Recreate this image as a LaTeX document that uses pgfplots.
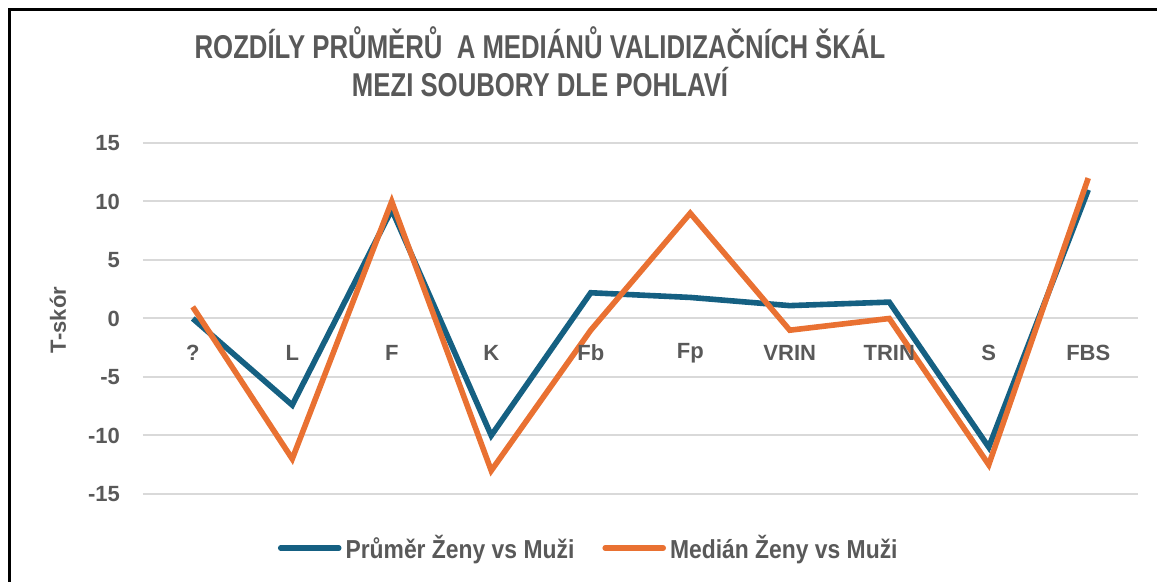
\documentclass[border=0pt]{standalone}
\usepackage{pgfplots}
\pgfplotsset{compat=1.18}
\usepackage{pgfplotstable}
\usepackage{fontspec}
\setmainfont{Liberation Sans}
\newfontfamily\titlefont[FakeStretch=0.78]{Liberation Sans}
\newfontfamily\legfont[FakeStretch=0.88]{Liberation Sans}
\definecolor{cblue}{HTML}{156082}
\definecolor{corange}{HTML}{E97132}
\definecolor{txt}{HTML}{595959}
\definecolor{gridc}{HTML}{D9D9D9}
\pgfplotstableread{
x mean median
0 0 1
1 -7.4 -12
2 9.3 10
3 -10 -13
4 2.2 -1
5 1.8 9
6 1.1 -1
7 1.4 0
8 -11 -12.5
9 11 12
}\data
\tikzset{cat/.style={font=\fontsize{11}{13}\selectfont\bfseries, text=txt}}
\begin{document}
\begin{tikzpicture}
\begin{axis}[
  scale only axis,
  width=497.5pt, height=175.5pt,
  xmin=-0.5, xmax=9.5, ymin=-15, ymax=15,
  axis line style={draw=none},
  xtick=\empty,
  ytick={-15,-10,-5,0,5,10,15},
  yticklabels={-15,-10,-5,0,5,10,15},
  ymajorgrids,
  grid style={gridc, line width=1pt},
  major tick length=0pt,
  yticklabel style={font=\fontsize{11}{13}\selectfont\bfseries, text=txt, xshift=-8pt},
  clip=false,
  legend columns=2,
  legend style={draw=none, fill=none, at={(0.449,-0.154)}, anchor=center,
    font=\legfont\fontsize{13}{15}\selectfont\bfseries, text=txt,
    /tikz/every even column/.append style={column sep=12pt}},
  legend image code/.code={\draw[#1, line cap=round] (0pt,0pt) -- (29pt,0pt);},
]
\addplot[cblue, line width=2.8pt] table[x=x, y=mean] {\data};
\addlegendentry{Průměr Ženy vs Muži}
\addplot[corange, line width=2.8pt] table[x=x, y=median] {\data};
\addlegendentry{Medián Ženy vs Muži}
\node[cat] at (axis cs:0,-2.95) {?};
\node[cat] at (axis cs:1,-2.95) {L};
\node[cat] at (axis cs:2,-2.95) {F};
\node[cat] at (axis cs:3,-2.95) {K};
\node[cat] at (axis cs:4,-2.95) {Fb};
\node[cat] at (axis cs:5,-2.95) {Fp};
\node[cat] at (axis cs:6,-2.95) {VRIN};
\node[cat] at (axis cs:7,-2.95) {TRIN};
\node[cat] at (axis cs:8,-2.95) {S};
\node[cat] at (axis cs:9,-2.95) {FBS};
\end{axis}
\path[use as bounding box] (-71.5pt,-44pt) rectangle (507pt,247pt);
\draw[black, line width=1.5pt] (-66.5pt,-44pt) -- (-66.5pt,242pt) -- (507pt,242pt);
\node[rotate=90, font=\fontsize{11}{13}\selectfont\bfseries, text=txt] at (-42.5pt,87pt) {T-skór};
\node[font=\titlefont\fontsize{16.5}{19}\selectfont\bfseries, text=txt, align=center] at (198.5pt,216pt) {ROZDÍLY PRŮMĚRŮ\ \ A MEDIÁNŮ VALIDIZAČNÍCH ŠKÁL\\MEZI SOUBORY DLE POHLAVÍ};
\end{tikzpicture}
\end{document}
